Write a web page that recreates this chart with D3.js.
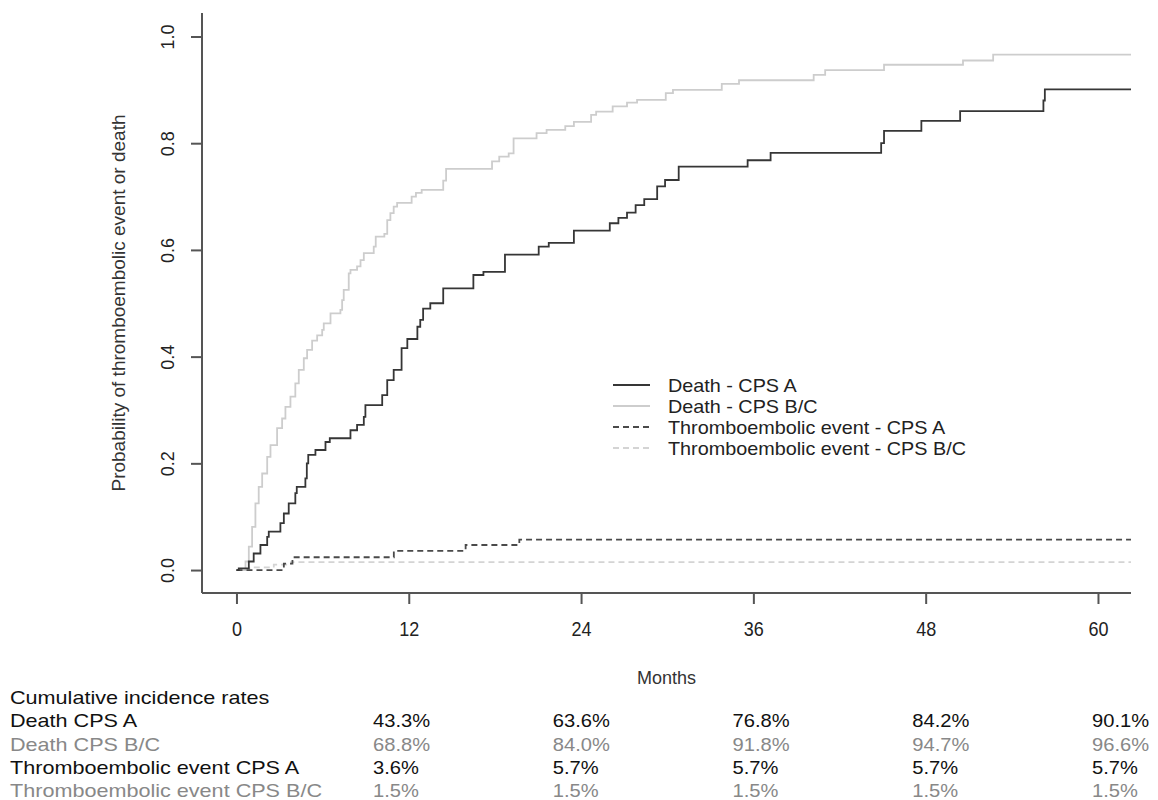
<!DOCTYPE html>
<html>
<head>
<meta charset="utf-8"/>
<title>Cumulative incidence</title>
<script src="https://d3js.org/d3.v7.min.js"></script>
<style>
  body { margin: 0; background: #fff; }
  text { font-family: "Liberation Sans", Arial, sans-serif; }
</style>
</head>
<body>
<div id="chart"></div>
<script>
// ---- data ----
var deathA_t = [0, 0.16, 0.86, 1.2, 1.67, 2.14, 2.25, 3.06, 3.3, 3.64, 4.1, 4.2, 4.8, 4.9, 5.0, 5.5, 6.2, 6.5,
  7.94, 8.4, 8.87, 8.98, 10.15, 10.5, 10.95, 11.5, 11.9, 12.6, 12.8, 13.0, 13.5, 14.4, 16.5, 17.2, 18.7,
  21.05, 21.75, 23.5, 26.0, 26.6, 27.2, 27.8, 28.4, 29.3, 29.85, 30.8, 35.6, 37.2, 44.9, 45.1, 47.7, 50.4,
  56.2, 56.3, 62.3];
var deathA_p = [0, 0.003, 0.016, 0.031, 0.047, 0.062, 0.072, 0.088, 0.106, 0.125, 0.144, 0.156, 0.172, 0.2,
  0.216, 0.225, 0.24, 0.247, 0.262, 0.272, 0.287, 0.309, 0.328, 0.356, 0.375, 0.416, 0.433, 0.456, 0.469,
  0.49, 0.5, 0.528, 0.553, 0.559, 0.591, 0.606, 0.613, 0.636, 0.65, 0.66, 0.67, 0.684, 0.695, 0.719, 0.731,
  0.756, 0.768, 0.782, 0.8, 0.823, 0.842, 0.86, 0.88, 0.901, 0.901];

var deathBC_t = [0, 0.63, 0.86, 1.09, 1.32, 1.55, 1.79, 2.14, 2.37, 2.83, 3.18, 3.41, 3.76, 4.1, 4.34, 4.69,
  4.92, 5.27, 5.62, 5.97, 6.08, 6.55, 7.24, 7.36, 7.47, 7.82, 7.94, 8.4, 8.64, 8.87, 9.56, 9.7, 10.3, 10.5,
  10.72, 10.95, 11.19, 12.2, 12.5, 12.9, 14.4, 14.6, 17.8, 18.3, 18.96, 19.3, 20.9, 21.6, 22.9, 23.5, 24.7,
  25.05, 26.2, 27.2, 27.9, 29.9, 30.4, 33.8, 35.0, 40.2, 41.0, 45.1, 50.6, 52.7, 62.3];
var deathBC_p = [0, 0.016, 0.044, 0.081, 0.125, 0.156, 0.181, 0.212, 0.234, 0.266, 0.284, 0.306, 0.325, 0.35,
  0.375, 0.397, 0.4125, 0.43, 0.44, 0.45, 0.4625, 0.481, 0.4875, 0.506, 0.525, 0.556, 0.5625, 0.569, 0.581,
  0.594, 0.606, 0.625, 0.63, 0.656, 0.669, 0.681, 0.688, 0.7, 0.707, 0.7125, 0.73, 0.752, 0.766, 0.775,
  0.781, 0.809, 0.819, 0.825, 0.832, 0.84, 0.853, 0.859, 0.869, 0.876, 0.881, 0.894, 0.9, 0.911, 0.918,
  0.928, 0.937, 0.947, 0.955, 0.966, 0.966];

var teA_t = [0, 3.3, 3.9, 10.96, 15.96, 19.7, 62.3];
var teA_p = [0, 0.012, 0.024, 0.036, 0.047, 0.057, 0.057];

var teBC_t = [0, 0.9, 2.6, 3.8, 62.3];
var teBC_p = [0, 0.005, 0.01, 0.015, 0.015];

var xTicks = [0, 12, 24, 36, 48, 60];
var yTicks = [0, 0.2, 0.4, 0.6, 0.8, 1.0];

var legendLabels = ["Death - CPS A", "Death - CPS B/C",
  "Thromboembolic event - CPS A", "Thromboembolic event - CPS B/C"];

var tableTitle = "Cumulative incidence rates";
var tableMonths = [12, 24, 36, 48, 60];
var tableLabels = ["Death CPS A", "Death CPS B/C", "Thromboembolic event CPS A", "Thromboembolic event CPS B/C"];
var tableDeathA = ["43.3%", "63.6%", "76.8%", "84.2%", "90.1%"];
var tableDeathBC = ["68.8%", "84.0%", "91.8%", "94.7%", "96.6%"];
var tableTeA = ["3.6%", "5.7%", "5.7%", "5.7%", "5.7%"];
var tableTeBC = ["1.5%", "1.5%", "1.5%", "1.5%", "1.5%"];

// ---- layout ----
var W = 1158, H = 800;
var plot = {left: 202, right: 1131, top: 13, bottom: 593};

var svg = d3.select("#chart").append("svg")
  .attr("width", W).attr("height", H);

var x = d3.scaleLinear().domain([-2.4, 62.3]).range([plot.left, plot.right]);
var y = d3.scaleLinear().domain([-0.043, 1.044]).range([plot.bottom, plot.top]);

var series = [
  {t: deathA_t, p: deathA_p, color: "#363636", dash: null, w: 1.8},
  {t: deathBC_t, p: deathBC_p, color: "#cdcdcd", dash: null, w: 1.8},
  {t: teA_t, p: teA_p, color: "#4a4a4a", dash: "6,4", w: 1.8},
  {t: teBC_t, p: teBC_p, color: "#d4d4d4", dash: "6,4", w: 1.8}
];

// scaled text helper (source text looks slightly stretched)
function txt(g, px, py, s, size, sx, color, anchor) {
  return g.append("text")
    .attr("transform", "translate(" + px + "," + py + ") scale(" + sx + ",1)")
    .attr("font-size", size)
    .attr("fill", color)
    .attr("text-anchor", anchor || "start")
    .text(s);
}

// box (bty = "l")
svg.append("line")
  .attr("x1", plot.left).attr("x2", plot.left)
  .attr("y1", plot.top).attr("y2", plot.bottom)
  .attr("stroke", "#555").attr("stroke-width", 2);
svg.append("line")
  .attr("x1", plot.left).attr("x2", plot.right)
  .attr("y1", plot.bottom).attr("y2", plot.bottom)
  .attr("stroke", "#555").attr("stroke-width", 2);

// x axis
var xg = svg.append("g")
  .attr("transform", "translate(0," + plot.bottom + ")")
  .call(d3.axisBottom(x).tickValues(xTicks).tickSize(11).tickFormat(d3.format("d")));
xg.select(".domain").remove();
xg.selectAll(".tick line").attr("stroke", "#555").attr("stroke-width", 2);
xg.selectAll(".tick text")
  .attr("y", 0).attr("dy", 0)
  .attr("transform", "translate(0,43) scale(0.9,1)")
  .attr("font-size", 20).attr("fill", "#222")
  .attr("font-family", "Liberation Sans, Arial, sans-serif");

// y axis
var yg = svg.append("g")
  .attr("transform", "translate(" + plot.left + ",0)")
  .call(d3.axisLeft(y).tickValues(yTicks).tickSize(11).tickFormat(d3.format(".1f")));
yg.select(".domain").remove();
yg.selectAll(".tick line").attr("stroke", "#555").attr("stroke-width", 2);
yg.selectAll(".tick text")
  .attr("x", 0).attr("dy", 0)
  .attr("transform", "translate(-28.5,0) rotate(-90)")
  .attr("text-anchor", "middle")
  .attr("font-size", 18).attr("fill", "#222")
  .attr("font-family", "Liberation Sans, Arial, sans-serif");

// axis titles
svg.append("text")
  .attr("transform", "translate(125," + ((plot.top + plot.bottom) / 2) + ") rotate(-90)")
  .attr("text-anchor", "middle")
  .attr("font-size", 19).attr("fill", "#333")
  .text("Probability of thromboembolic event or death");
txt(svg, (plot.left + plot.right) / 2, 684, "Months", 18, 1, "#333", "middle");

// curves
var line = d3.line()
  .x(function(d) { return x(d[0]); })
  .y(function(d) { return y(d[1]); })
  .curve(d3.curveStepAfter);

// draw light ones first so dark curves stay on top
[3, 1, 2, 0].forEach(function(i) {
  var s = series[i];
  svg.append("path")
    .datum(d3.zip(s.t, s.p))
    .attr("fill", "none")
    .attr("stroke", s.color)
    .attr("stroke-width", s.w)
    .attr("stroke-dasharray", s.dash)
    .attr("d", line);
});

// legend
var lg = svg.append("g");
var legY = d3.scalePoint().domain(legendLabels).range([385, 448]);
legendLabels.forEach(function(lab, i) {
  var s = series[i];
  lg.append("line")
    .attr("x1", 613).attr("x2", 650)
    .attr("y1", legY(lab)).attr("y2", legY(lab))
    .attr("stroke", s.color).attr("stroke-width", s.w)
    .attr("stroke-dasharray", s.dash);
  txt(lg, 668, legY(lab) + 6.5, lab, 18, 1.1, "#222");
});

// table
var tg = svg.append("g");
var col = d3.scaleLinear().domain([12, 60]).range([373, 1092]);
var rowY = d3.scalePoint().domain(d3.range(5)).range([704, 797]);
var rowColor = ["#111", "#888", "#111", "#888"];
var rowVals = [tableDeathA, tableDeathBC, tableTeA, tableTeBC];
txt(tg, 10, rowY(0), tableTitle, 18, 1.2, "#111");
tableLabels.forEach(function(lab, i) {
  txt(tg, 10, rowY(i + 1), lab, 18, 1.2, rowColor[i]);
  rowVals[i].forEach(function(v, j) {
    txt(tg, col(tableMonths[j]), rowY(i + 1), v, 18, 1.12, rowColor[i]);
  });
});
</script>
</body>
</html>
